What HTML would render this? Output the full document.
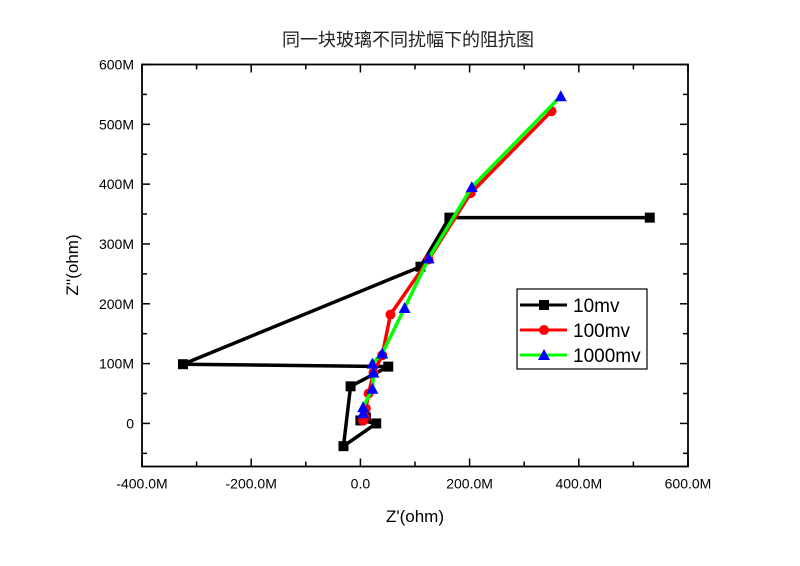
<!DOCTYPE html>
<html><head><meta charset="utf-8"><style>
body{margin:0;background:#fff;}
svg text{font-family:"Liberation Sans","Noto Sans CJK SC",sans-serif;}
</style></head><body>
<svg id="chart" width="800" height="561">
<text x="408" y="46" font-size="18" text-anchor="middle" fill="#222" font-family="'Noto Serif CJK SC','Liberation Serif',serif">同一块玻璃不同扰幅下的阻抗图</text>
<g id="axes"></g>
<g id="series"></g>
<g>
<rect x="517" y="289" width="130" height="80" fill="#fff" stroke="#000" stroke-width="1.2"/>
<line x1="520" y1="305" x2="567" y2="305" stroke="#000" stroke-width="3"/><rect x="539" y="300" width="10" height="10" fill="#000"/>
<text x="573" y="312" font-size="19">10mv</text>
<line x1="520" y1="330" x2="567" y2="330" stroke="#f00" stroke-width="3"/><circle cx="544" cy="330" r="5" fill="#f00"/>
<text x="573" y="337" font-size="19">100mv</text>
<line x1="520" y1="355" x2="567" y2="355" stroke="#0f0" stroke-width="3"/><polygon points="544,349 550,360 538,360" fill="#00f"/>
<text x="573" y="362" font-size="19">1000mv</text>
</g>
<text x="415" y="522" font-size="17" text-anchor="middle">Z'(ohm)</text>
<text transform="translate(78,265) rotate(-90)" font-size="17" text-anchor="middle">Z''(ohm)</text>
</svg>
<script>
const xTicks=[-400,-200,0,200,400,600];
const xTickLabels=["-400.0M","-200.0M","0.0","200.0M","400.0M","600.0M"];
const yTicks=[0,100,200,300,400,500,600];
const yTickLabels=["0","100M","200M","300M","400M","500M","600M"];
const s10x=[530,163,110,-325,51,-18,-31,29,0,10];
const s10y=[344,344,262,99,95,62,-38,0,5,10];
const s100x=[350,202,125,55,40,24,15,10,8,5];
const s100y=[522,385,274,182,114,85,50,25,10,5];
const s1000x=[367,204,125,81,40,22,24,22,5,5];
const s1000y=[547,395,276,193,117,100,85,58,27,17];
const L=142,R=688,T=64.5,B=466.5,xmin=-400,xmax=600,ymin=-72,ymax=600;
const X=v=>L+(v-xmin)/(xmax-xmin)*(R-L);
const Y=v=>B-(v-ymin)/(ymax-ymin)*(B-T);
const NS="http://www.w3.org/2000/svg";
function mk(t,a,p){const e=document.createElementNS(NS,t);for(const k in a)e.setAttribute(k,a[k]);p.appendChild(e);return e;}
const ax=document.getElementById('axes');
const fr=mk('rect',{x:L,y:T,width:R-L,height:B-T,fill:'none',stroke:'#000','stroke-width':1.8},ax);


for(let v=-400;v<=600;v+=100){const maj=v%200===0;const len=maj?8:5;
mk('line',{x1:X(v),y1:B,x2:X(v),y2:B-len,stroke:'#000','stroke-width':1.5},ax);
mk('line',{x1:X(v),y1:T,x2:X(v),y2:T+len,stroke:'#000','stroke-width':1.5},ax);}
for(let v=-50;v<=600;v+=50){const maj=v%100===0;const len=maj?8:5;
mk('line',{x1:L,y1:Y(v),x2:L+len,y2:Y(v),stroke:'#000','stroke-width':1.5},ax);
mk('line',{x1:R,y1:Y(v),x2:R-len,y2:Y(v),stroke:'#000','stroke-width':1.5},ax);}
xTicks.forEach((v,i)=>{const t=mk('text',{x:X(v),y:B+22,'font-size':14,'text-anchor':'middle'},ax);t.textContent=xTickLabels[i];

});
yTicks.forEach((v,i)=>{const t=mk('text',{x:L-8,y:Y(v)+5,'font-size':14,'text-anchor':'end'},ax);t.textContent=yTickLabels[i];

});
const sg=document.getElementById('series');
function series(xs,ys,color,mcolor,shape,name){
const g=mk('g',{},sg);


mk('polyline',{points:xs.map((x,i)=>X(x)+','+Y(ys[i])).join(' '),fill:'none',stroke:color,'stroke-width':3.5,'stroke-linejoin':'round'},g);
xs.forEach((x,i)=>{const cx=X(x),cy=Y(ys[i]);let m;
if(shape==='sq')m=mk('rect',{x:cx-5,y:cy-5,width:10,height:10,fill:mcolor},g);
else if(shape==='c')m=mk('circle',{cx:cx,cy:cy,r:5,fill:mcolor},g);
else m=mk('polygon',{points:`${cx},${cy-6} ${cx+6},${cy+5} ${cx-6},${cy+5}`,fill:mcolor},g);

});}
series(s10x,s10y,'#000','#000','sq','series-10mv');
series(s100x,s100y,'#f00','#f00','c','series-100mv');
series(s1000x,s1000y,'#0f0','#00f','t','series-1000mv');
</script>
</body></html>
